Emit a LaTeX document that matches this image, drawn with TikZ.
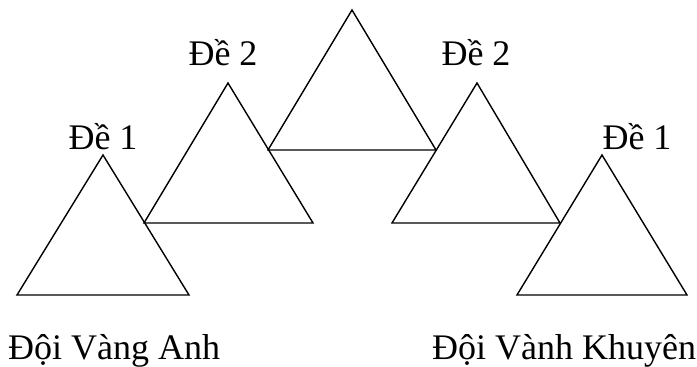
\documentclass[tikz,border=0pt]{standalone}
\usepackage{fontspec}
\setmainfont{Liberation Serif}
\begin{document}
\begin{tikzpicture}[x=1pt,y=-1pt,
    tri/.style={black, line width=1.4pt, line join=miter},
    lbl/.style={inner sep=0pt, font=\fontsize{36}{40}\selectfont}]
    \useasboundingbox (0,0) rectangle (697,367);
    % triangles, left to right
    \draw[tri] (103,155) -- (189,295) -- (17,295) -- cycle;
    \draw[tri] (228,83) -- (313,223) -- (144,223) -- cycle;
    \draw[tri] (352,10) -- (436,150) -- (268,150) -- cycle;
    \draw[tri] (477,83) -- (560,223) -- (392,223) -- cycle;
    \draw[tri] (602,155) -- (687,295) -- (517,295) -- cycle;
    % labels
    \node[lbl, anchor=base] (de1l) at (103,149) {Đề 1};
    \node[lbl, anchor=base] (de2l) at (223,65) {Đề 2};
    \node[lbl, anchor=base] (de2r) at (476,65) {Đề 2};
    \node[lbl, anchor=base] (de1r) at (637,149) {Đề 1};
    \node[lbl, anchor=base west] (vang) at (8,359) {Đội Vàng Anh};
    \node[lbl, anchor=base west] (vanh) at (432,359) {Đội Vành Khuyên};
\end{tikzpicture}
\end{document}
